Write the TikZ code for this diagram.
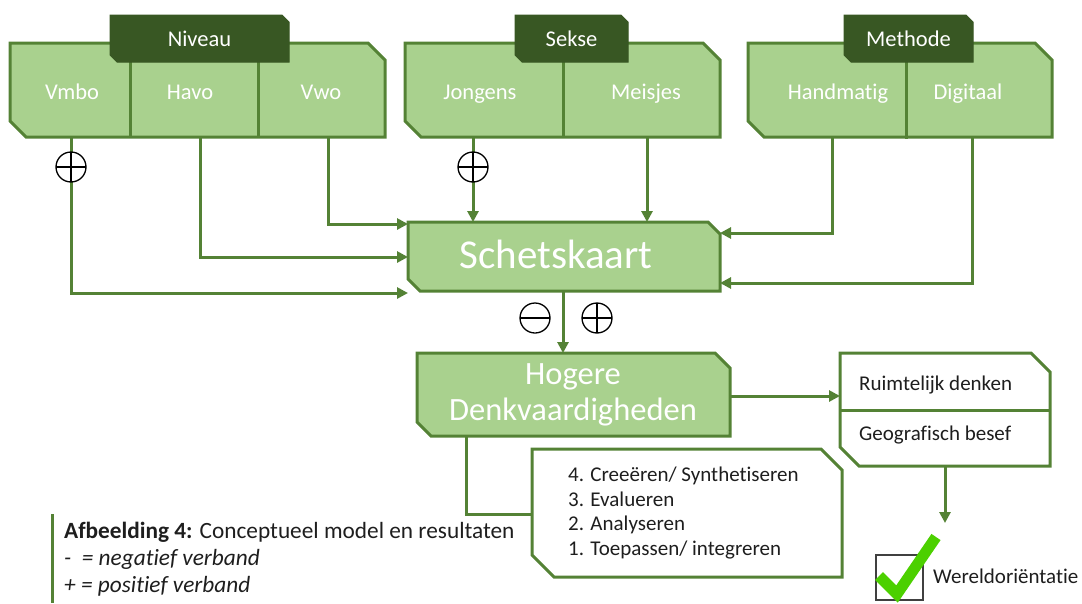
\documentclass[tikz,border=0pt]{standalone}
\usepackage{fontspec}
\setmainfont{Carlito}[Ligatures={NoCommon}]
\usetikzlibrary{arrows.meta,calc}
\definecolor{gfill}{HTML}{A9D18E}
\definecolor{gline}{HTML}{548235}
\definecolor{gdark}{HTML}{385723}
\definecolor{txtc}{HTML}{1E1E1E}
\definecolor{chkc}{HTML}{4CD000}
\newcommand\snipdraw[4]{%
  \draw[#4] (#1.north west) -- ($(#1.north east)+(-#2,0)$) -- ($(#1.north east)+(0,#2)$)
    -- (#1.south east) -- ($(#1.south west)+(#3,0)$) -- ($(#1.south west)+(0,-#3)$) -- cycle;}
\begin{document}
\begin{tikzpicture}[x=1pt,y=-1pt,
  area/.style={rectangle,inner sep=0pt,outer sep=0pt,minimum width=#1},
  greenbox/.style={fill=gfill,draw=gline,line width=3pt,line join=miter},
  whitebox/.style={fill=white,draw=gline,line width=3pt,line join=miter},
  hdrbox/.style={fill=gdark,draw=gdark,line width=1pt},
  celltext/.style={text=white,font=\fontsize{22.5}{27}\selectfont,inner sep=0pt},
  darktext/.style={text=txtc,font=\fontsize{21}{24.5}\selectfont,inner sep=0pt},
  conn/.style={draw=gline,line width=3pt,-{Triangle[length=11pt,width=11pt]}},
  plain/.style={draw=gline,line width=3pt},
  sign/.style={circle,draw=black,fill=white,line width=1.3pt,minimum size=30pt,inner sep=0pt},
  plussign/.style={sign,path picture={\draw[line width=1.3pt]
     (path picture bounding box.north) -- (path picture bounding box.south)
     (path picture bounding box.west) -- (path picture bounding box.east);}},
  minussign/.style={sign,path picture={\draw[line width=1.3pt]
     (path picture bounding box.west) -- (path picture bounding box.east);}}
]
\useasboundingbox (0,0) rectangle (1082,603);

% group areas
\node[area=375pt,minimum height=94pt] (niv) at (197.5,90) {};
\node[area=315pt,minimum height=94pt] (sek) at (562.5,90) {};
\node[area=304pt,minimum height=94pt] (met) at (900,90) {};
\node[area=179pt,minimum height=47pt] (nivH) at (199.5,38.5) {};
\node[area=113pt,minimum height=47pt] (sekH) at (571.5,38.5) {};
\node[area=129pt,minimum height=47pt] (metH) at (908.5,38.5) {};
\node[area=312pt,minimum height=69pt] (schets) at (564,256.5) {};
\node[area=313pt,minimum height=83pt] (hog) at (573.5,394.5) {};
\node[area=210pt,minimum height=113pt] (ruim) at (945,409.5) {};
\node[area=310pt,minimum height=128pt] (list) at (687,513) {};

% shapes
\snipdraw{niv}{17}{16}{greenbox}
\snipdraw{sek}{17}{16}{greenbox}
\snipdraw{met}{17}{16}{greenbox}
\draw[plain] (130,62) -- (130,137) (258,62) -- (258,137);
\draw[plain] (563,62) -- (563,137);
\draw[plain] (906,62) -- (906,139);
\snipdraw{nivH}{7}{7}{hdrbox}
\snipdraw{sekH}{7}{7}{hdrbox}
\snipdraw{metH}{7}{7}{hdrbox}
\snipdraw{schets}{12}{12}{greenbox}
\snipdraw{hog}{15}{14}{greenbox}
\snipdraw{ruim}{19}{19}{whitebox}
\draw[plain] (ruim.west |- 0,410) -- (ruim.east |- 0,410);
\snipdraw{list}{21}{22}{whitebox}

% texts
\node[celltext,anchor=base] at (199.5,46.5) {Niveau};
\node[celltext,anchor=base] at (571.5,46.5) {Sekse};
\node[celltext,anchor=base] at (908.5,46.5) {Methode};
\node[celltext,anchor=base] (vmbo) at (72,99.5) {Vmbo};
\node[celltext,anchor=base] (havo) at (190,99.5) {Havo};
\node[celltext,anchor=base] (vwo) at (321,99.5) {Vwo};
\node[celltext,anchor=base] (jong) at (480,99.5) {Jongens};
\node[celltext,anchor=base] (meis) at (646,99.5) {Meisjes};
\node[celltext,anchor=base] (hand) at (838,99.5) {Handmatig};
\node[celltext,anchor=base] (digi) at (968,99.5) {Digitaal};
\node[text=white,font=\fontsize{41}{49}\selectfont,inner sep=0pt] at (556,254) {Schetskaart};
\node[text=white,font=\fontsize{32.5}{36}\selectfont,align=center,inner sep=0pt] at (573,395) {Hogere\\Denkvaardigheden};
\node[darktext,anchor=west] (r1) at (859,385) {Ruimtelijk denken};
\node[darktext,anchor=west] (r2) at (859,435) {Geografisch besef};
\node[darktext,anchor=west,align=left] (items) at (568,513) {4. Creeëren/ Synthetiseren\\3. Evalueren\\2. Analyseren\\1. Toepassen/ integreren};

% connectors
\draw[conn] (niv.south -| 328,0) |- (schets.west |- 0,224);
\draw[conn] (niv.south -| 200,0) |- (schets.west |- 0,257);
\draw[conn] (niv.south -| 71,0) |- (schets.west |- 0,293);
\draw[conn] (sek.south -| 473,0) -- (schets.north -| 473,0);
\draw[conn] (sek.south -| 647,0) -- (schets.north -| 647,0);
\draw[conn] (met.south -| 832,0) |- (schets.east |- 0,233);
\draw[conn] (met.south -| 972,0) |- (schets.east |- 0,283);
\draw[conn] (schets.south -| 563,0) -- (hog.north -| 563,0);
\draw[conn] (hog.east |- 0,396) -- (ruim.west |- 0,396);
\coordinate (chktop) at (945,523);
\draw[conn] (ruim.south -| 945,0) -- (chktop);
\draw[plain] (hog.south -| 466,0) |- (list.west |- 0,514);

% signs
\node[plussign] (s1) at (71,167) {};
\node[plussign] (s2) at (473,167) {};
\node[minussign] (s3) at (535,318) {};
\node[plussign] (s4) at (597,318) {};

% check
\node[area=47pt,minimum height=45pt,draw=black!75,line width=1.8pt] (chkbox) at (899.5,577.5) {};
\draw[chkc,line width=11pt] (879,576) -- (897,594) -- (936,537);
\node[darktext,anchor=west] (wo) at (933,576) {Wereldoriëntatie};

% caption
\draw[plain] (52,514) -- (52,603);
\node[anchor=west,align=left,inner sep=0pt,text=txtc,font=\fontsize{23.3}{27}\selectfont] (cap) at (64,559)
  {\textbf{Afbeelding 4:} Conceptueel model en resultaten\\\textit{-\ \ = negatief verband}\\\textit{+ = positief verband}};
\end{tikzpicture}
\end{document}
